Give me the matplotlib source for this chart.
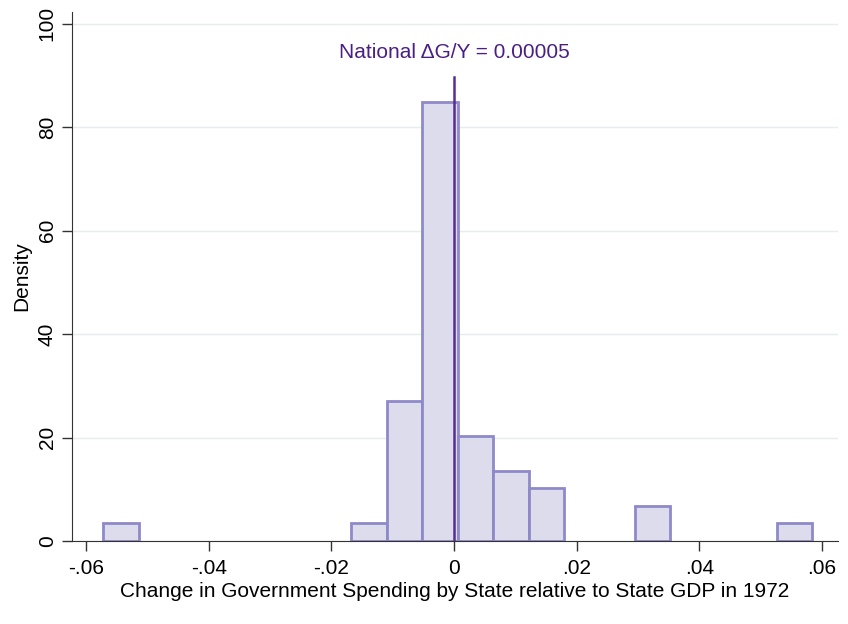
import numpy as np
import matplotlib.pyplot as plt

plt.rcParams['font.family'] = ['Liberation Sans', 'DejaVu Sans']

# histogram: 20 equal bins, 51 states
bin_start = -0.0572
bin_width = 0.00578
counts = [1, 0, 0, 0, 0, 0, 0, 1, 8, 25, 6, 4, 3, 0, 0, 2, 0, 0, 0, 1]
national = 0.00005

x_ticks = [-0.06, -0.04, -0.02, 0, 0.02, 0.04, 0.06]
x_labels = ['-.06', '-.04', '-.02', '0', '.02', '.04', '.06']
y_ticks = [0, 20, 40, 60, 80, 100]

edges = bin_start + bin_width * np.arange(len(counts) + 1)
centers = (edges[:-1] + edges[1:]) / 2

fig = plt.figure(figsize=(8.48, 6.24), dpi=100)
ax = fig.add_axes([0.085, 0.133, 0.903, 0.848])

_, _, patches = ax.hist(centers, bins=edges, weights=counts, density=True,
                        color='#dcdcec', edgecolor='#8e89c9', linewidth=2, zorder=2)
# empty bins should not leave an outline on the axis
for p, c in zip(patches, counts):
    if c == 0:
        p.set_visible(False)

ax.axvline(national, ymin=0, ymax=89.7 / 102.3, color='#5a2d91', linewidth=1.8, zorder=3)
ax.text(national, 94.5, 'National \u0394G/Y = 0.00005', color='#4a1f85',
        ha='center', va='center', fontsize=15)

ax.set_xlim(-0.0623, 0.0626)
ax.set_ylim(0, 102.3)
ax.set_xticks(x_ticks)
ax.set_xticklabels(x_labels)
ax.set_yticks(y_ticks)
ax.set_yticklabels([str(v) for v in y_ticks], rotation=90, va='center')
ax.tick_params(direction='out', length=7, width=1, colors='#333333',
               labelcolor='black', labelsize=15)
ax.tick_params(axis='x', pad=6)
ax.tick_params(axis='y', pad=4)

ax.grid(axis='y', color='#e4eeee', linewidth=1, zorder=0)
ax.set_axisbelow(True)
for side in ['top', 'right']:
    ax.spines[side].set_visible(False)
for side in ['left', 'bottom']:
    ax.spines[side].set_color('#333333')

ax.set_xlabel('Change in Government Spending by State relative to State GDP in 1972',
              fontsize=15, labelpad=3)
ax.set_ylabel('Density', fontsize=15, labelpad=5)

fig.savefig('out.png', dpi=100)
